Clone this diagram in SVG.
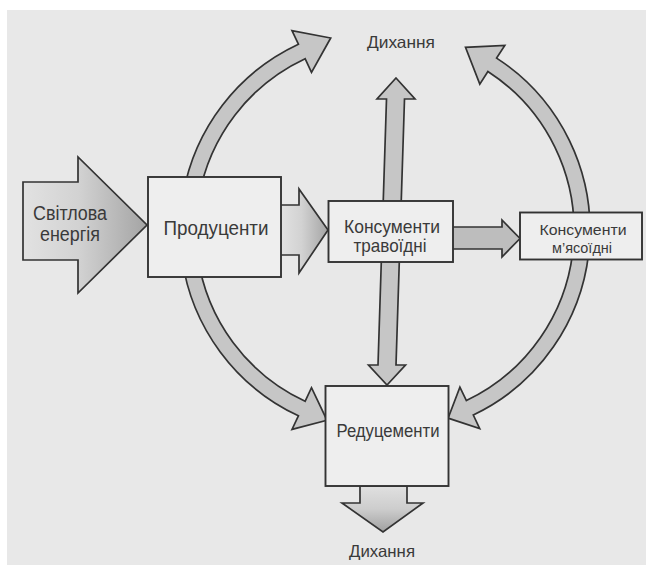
<svg xmlns="http://www.w3.org/2000/svg" width="646" height="565" viewBox="0 0 646 565">
  <style>
    .box { fill: #eeeeee; stroke: #333333; stroke-width: 1.9; }
    .arc { fill: #c6c6c6; stroke: #333333; stroke-width: 1.7; stroke-linejoin: miter; }
    .lbl { font-family: "Liberation Sans", Arial, sans-serif; fill: #3a3a3a; text-anchor: middle; }
  </style>
  <defs>
    <linearGradient id="gH" x1="0" y1="0" x2="1" y2="0">
      <stop offset="0" stop-color="#e2e2e2"/>
      <stop offset="0.45" stop-color="#d2d2d2"/>
      <stop offset="1" stop-color="#a4a4a4"/>
    </linearGradient>
    <linearGradient id="gV" x1="0" y1="0" x2="0" y2="1">
      <stop offset="0" stop-color="#e0e0e0"/>
      <stop offset="0.5" stop-color="#cdcdcd"/>
      <stop offset="1" stop-color="#a0a0a0"/>
    </linearGradient>
  </defs>

  <rect x="0" y="0" width="646" height="565" fill="#ffffff"/>
  <rect x="7" y="10" width="639" height="555" fill="#e8e8e8"/>

  <g id="connectors">
    <!-- producers to respiration (top-left arc) -->
    <path class="arc" d="M198.9,197.2 A189,189 0 0 1 305.1,58.7 L311.5,72.3 L330.7,38 L292,30.6 L298.4,44.2 A205,205 0 0 0 183.1,194.4 Z"/>
    <!-- carnivores to respiration (top-right arc) -->
    <path class="arc" d="M573.3,246.5 A189,189 0 0 0 487.9,71.5 L479.8,84.1 L465.5,47.4 L504.8,45.5 L496.6,58.1 A205,205 0 0 1 589.2,247.9 Z"/>
    <!-- producers to decomposers (bottom-left arc) -->
    <path class="arc" d="M197.8,256.3 A189,189 0 0 0 305.1,401.3 L311.5,387.7 L327,420.3 L292,429.4 L298.4,415.8 A205,205 0 0 1 182,258.5 Z"/>
    <!-- carnivores to decomposers (bottom-right arc) -->
    <path class="arc" d="M573.3,246.5 A189,189 0 0 1 466.4,400.6 L459.9,387.1 L448.1,418.1 L479.7,428.6 L473.3,415 A205,205 0 0 0 589.2,247.9 Z"/>
    <!-- vertical double arrow through herbivores -->
    <path class="arc" d="M396,78 L415,99 L404.5,99 L396,365 L405.5,365 L387,385 L368.5,365 L378,365 L386.5,99 L377,99 Z"/>
    <!-- producers to herbivores -->
    <path class="arc" style="fill:url(#gH)" d="M280,205 L299,205 L299,189 L328,230 L299,273 L299,255 L280,255 Z"/>
    <!-- herbivores to carnivores -->
    <path class="arc" style="fill:#bdbdbd" d="M452,227 L502,227 L502,220 L520,238.5 L502,257 L502,249 L452,249 Z"/>
    <!-- decomposers to respiration -->
    <path class="arc" style="fill:url(#gV)" d="M360,486 L407,486 L407,503 L423,503 L383,532 L342,503 L360,503 Z"/>
  </g>

  <g id="svitlova-energiia">
    <path class="arc" style="fill:url(#gH)" d="M23,182 L78,182 L78,157 L147,225 L78,293 L78,260 L23,260 Z"/>
    <text class="lbl" x="70" y="220" font-size="20" textLength="74" lengthAdjust="spacingAndGlyphs">Світлова</text>
    <text class="lbl" x="70" y="240.5" font-size="20" textLength="60" lengthAdjust="spacingAndGlyphs">енергія</text>
  </g>

  <g id="produtsenty">
    <rect class="box" x="148" y="177" width="133" height="100"/>
    <text class="lbl" x="216" y="235" font-size="21" textLength="105" lengthAdjust="spacingAndGlyphs">Продуценти</text>
  </g>

  <g id="konsumenty-travoidni">
    <rect class="box" x="328.5" y="201" width="124.5" height="61"/>
    <text class="lbl" x="392" y="233" font-size="19" textLength="96" lengthAdjust="spacingAndGlyphs">Консументи</text>
    <text class="lbl" x="390" y="252" font-size="19" textLength="73" lengthAdjust="spacingAndGlyphs">травоїдні</text>
  </g>

  <g id="konsumenty-miasoidni">
    <rect class="box" x="520" y="212.5" width="122" height="47"/>
    <text class="lbl" x="583" y="234.5" font-size="15" textLength="87" lengthAdjust="spacingAndGlyphs">Консументи</text>
    <text class="lbl" x="582" y="252.5" font-size="15" textLength="60" lengthAdjust="spacingAndGlyphs">м’ясоїдні</text>
  </g>

  <g id="redutsementy">
    <rect class="box" x="325.5" y="386" width="123" height="100"/>
    <text class="lbl" x="388" y="437" font-size="18" textLength="103" lengthAdjust="spacingAndGlyphs">Редуцементи</text>
  </g>

  <g id="dykhannia-top">
    <text class="lbl" x="401" y="48" font-size="16.5" textLength="68" lengthAdjust="spacingAndGlyphs">Дихання</text>
  </g>

  <g id="dykhannia-bottom">
    <text class="lbl" x="382" y="556.5" font-size="16.5" textLength="66" lengthAdjust="spacingAndGlyphs">Дихання</text>
  </g>
</svg>
